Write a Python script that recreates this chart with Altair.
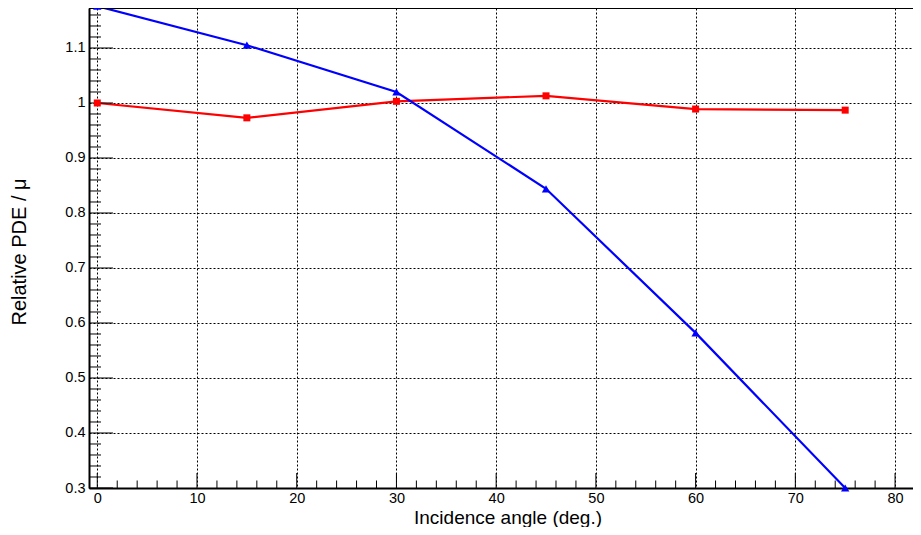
import altair as alt
import pandas as pd

# ---- data ----
angles = [0, 15, 30, 45, 60, 75]
pde_red = [1.000, 0.973, 1.003, 1.013, 0.989, 0.987]
pde_blue = [1.176, 1.105, 1.020, 0.844, 0.582, 0.300]

x_major = [0, 10, 20, 30, 40, 50, 60, 70, 80]
x_minor = [v for v in range(0, 82, 2) if v % 10 != 0]
y_major = [0.3, 0.4, 0.5, 0.6, 0.7, 0.8, 0.9, 1.0, 1.1]
y_minor = [round(0.30 + 0.02 * i, 2) for i in range(0, 44) if i % 5 != 0]

W, H = 824, 480
FONT = "Liberation Sans"

xscale = alt.Scale(domain=[-0.83, 81.8], nice=False, zero=False)
yscale = alt.Scale(domain=[0.3, 1.1727], nice=False, zero=False)

red_df = pd.DataFrame({"angle": angles, "pde": pde_red})
blue_df = pd.DataFrame({"angle": angles, "pde": pde_blue})

x_axis = alt.Axis(
    values=x_major, grid=True, gridDash=[2, 2], gridColor="black", gridWidth=1,
    gridOpacity=1, ticks=False, domain=True, domainColor="black", domainWidth=2,
    labelFont=FONT, labelFontSize=14.5, labelColor="black", labelPadding=3,
    labelFlush=False, labelOverlap=False,
    title="Incidence angle (deg.)", titleFont=FONT, titleFontSize=19,
    titleFontWeight="normal", titleColor="black", titleX=418.5, titleY=35,
    titleBaseline="alphabetic", titleAlign="center",
)
y_axis = alt.Axis(
    values=y_major, format="~g", grid=True, gridDash=[2, 2], gridColor="black",
    gridWidth=1, gridOpacity=1, ticks=False, domain=True, domainColor="black",
    domainWidth=2, labelFont=FONT, labelFontSize=14.5, labelColor="black",
    labelPadding=4, labelFlush=False, labelOverlap=False,
    title="Relative PDE / μ", titleFont=FONT, titleFontSize=20,
    titleFontWeight="normal", titleColor="black", titleAngle=270,
    titleX=-64, titleY=243.5, titleBaseline="alphabetic", titleAlign="center",
)

X = alt.X("angle:Q", scale=xscale, axis=x_axis)
Y = alt.Y("pde:Q", scale=yscale, axis=y_axis)

red_line = alt.Chart(red_df).mark_line(color="#ff0000", strokeWidth=2.2).encode(x=X, y=Y)
red_pts = alt.Chart(red_df).mark_point(
    shape="square", filled=True, size=49, color="#ff0000", opacity=1
).encode(x=X, y=Y)
blue_line = alt.Chart(blue_df).mark_line(color="#0000ff", strokeWidth=2.2).encode(x=X, y=Y)
blue_pts = alt.Chart(blue_df).mark_point(
    shape="triangle-up", filled=True, size=70, color="#0000ff", opacity=1
).encode(x=X, y=Y)

# inside ticks (ROOT style)
xmaj_ticks = alt.Chart(pd.DataFrame({"angle": x_major})).mark_rule(
    color="black", strokeWidth=1
).encode(x=X, y=alt.value(H), y2=alt.value(H - 15))
xmin_ticks = alt.Chart(pd.DataFrame({"angle": x_minor})).mark_rule(
    color="black", strokeWidth=1
).encode(x=X, y=alt.value(H), y2=alt.value(H - 7.5))
ymaj_ticks = alt.Chart(pd.DataFrame({"pde": y_major})).mark_rule(
    color="black", strokeWidth=1
).encode(y=Y, x=alt.value(0), x2=alt.value(24))
ymin_ticks = alt.Chart(pd.DataFrame({"pde": y_minor})).mark_rule(
    color="black", strokeWidth=1
).encode(y=Y, x=alt.value(0), x2=alt.value(12))
top_frame = alt.Chart(pd.DataFrame({"k": [0]})).mark_rule(
    color="black", strokeWidth=2
).encode(x=alt.value(0), x2=alt.value(W), y=alt.value(0))

chart = alt.layer(
    red_line, blue_line, xmaj_ticks, xmin_ticks, ymaj_ticks, ymin_ticks,
    top_frame, red_pts, blue_pts,
).properties(
    width=W, height=H,
    autosize=alt.AutoSizeParams(type="none"),
    padding={"left": 81, "top": 0, "right": 0, "bottom": 39},
    background="white",
).configure_view(stroke=None)

chart.save("out.html", embed_options={"renderer": "svg", "actions": False})
